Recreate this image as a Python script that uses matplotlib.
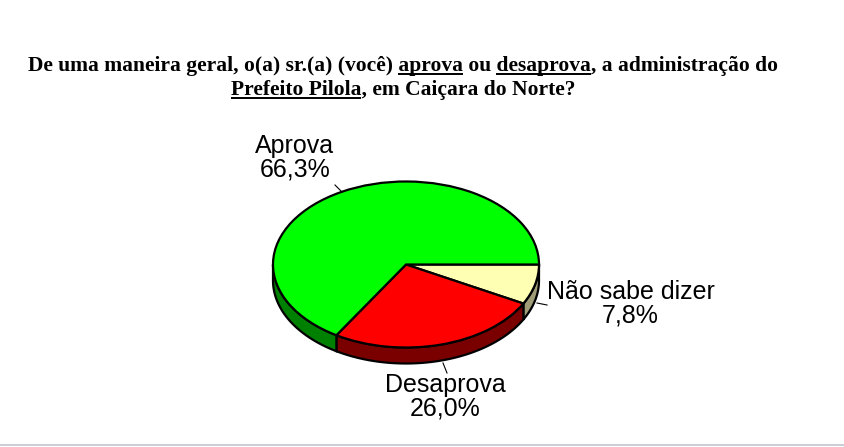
"""Pie chart: approval of the mayor, Caiçara do Norte."""
import matplotlib
matplotlib.use("Agg")
import matplotlib.pyplot as plt
import numpy as np
from matplotlib.patches import Polygon

W, H = 845, 447

# order follows the pie, clockwise from 3 o'clock
labels = ["Não sabe dizer", "Desaprova", "Aprova"]
values = [7.8, 26.0, 66.3]
value_labels = ["7,8%", "26,0%", "66,3%"]
top_colors = ["#FFFFB4", "#FF0000", "#00FF00"]
side_colors = ["#A09C78", "#7A0000", "#008000"]

title_lines = [
    "De uma maneira geral, o(a) sr.(a) (você) aprova ou desaprova, a administração do",
    "Prefeito Pilola, em Caiçara do Norte?",
]
underlined = [["aprova", "desaprova"], ["Prefeito Pilola"]]

# pie geometry in pixels
CX, CY, RX, RY, DEPTH = 406, 264.5, 133, 83, 16

fig = plt.figure(figsize=(W / 100, H / 100), dpi=100)
ax = fig.add_axes([0, 0, 1, 1])


def px(x, y):
    return (x - CX) / RX, (CY - y) / RY


def draw_side(start, stop, color):
    # front wall between two clockwise angles, only the part facing us
    a0, a1 = max(start, 0), min(stop, 180)
    if a1 <= a0:
        return
    t = np.radians(np.linspace(a0, a1, 60))
    xs, ys = np.cos(t), -np.sin(t)
    d = DEPTH / RY
    pts = np.r_[np.c_[xs, ys], np.c_[xs, ys - d][::-1]]
    ax.add_patch(Polygon(pts, closed=True, fc=color, ec="black", lw=1.6, zorder=1))


angles = np.r_[0, np.cumsum(values)] / sum(values) * 360
for i, c in enumerate(side_colors):
    draw_side(angles[i], angles[i + 1], c)

wedges, _ = ax.pie(values, colors=top_colors, startangle=0, counterclock=False,
                   radius=1, center=(0, 0),
                   wedgeprops=dict(edgecolor="black", linewidth=1.6, zorder=2))

ax.set_aspect("auto")
ax.set_xlim(-CX / RX, (W - CX) / RX)
ax.set_ylim((CY - H) / RY, CY / RY)
ax.axis("off")

# data labels and their leader lines
label_pos = [(630.5, 303.5), (445, 397), (295, 158)]
leaders = [((537, 303), (547, 305)), ((443, 363), (447, 373)), ((335, 185), (342, 192))]
for name, val, (x, y), (p, q) in zip(labels, value_labels, label_pos, leaders):
    ax.text(*px(x, y), f"{name}\n{val}", ha="center", va="center", fontsize=18,
            family="Liberation Sans", linespacing=0.95, color="black")
    ax.plot(*zip(px(*p), px(*q)), color="black", lw=0.8, zorder=3)

# title, underlines measured from the rendered text
renderer = fig.canvas.get_renderer()
title_kw = dict(fontsize=15.5, family="Liberation Serif", fontweight="bold", color="black")
title_y = [71, 95]
for line, y, words in zip(title_lines, title_y, underlined):
    x_mid = 403
    t = ax.text(*px(x_mid, y), line, ha="center", va="baseline", **title_kw)
    box = t.get_window_extent(renderer)
    for word in words:
        probe = ax.text(0, 0, line[:line.index(word)] + word, **title_kw)
        end = probe.get_window_extent(renderer).width
        probe.set_text(word)
        width = probe.get_window_extent(renderer).width
        probe.remove()
        x1 = box.x0 + end
        ax.plot(*zip(px(x1 - width, y + 3), px(x1, y + 3)), color="black", lw=1.4,
                solid_capstyle="butt")

# page edge at the bottom
ax.plot(*zip(px(0, 445), px(W, 445)), color="#C4C4D0", lw=1.2)

fig.savefig("out.png", dpi=100)
